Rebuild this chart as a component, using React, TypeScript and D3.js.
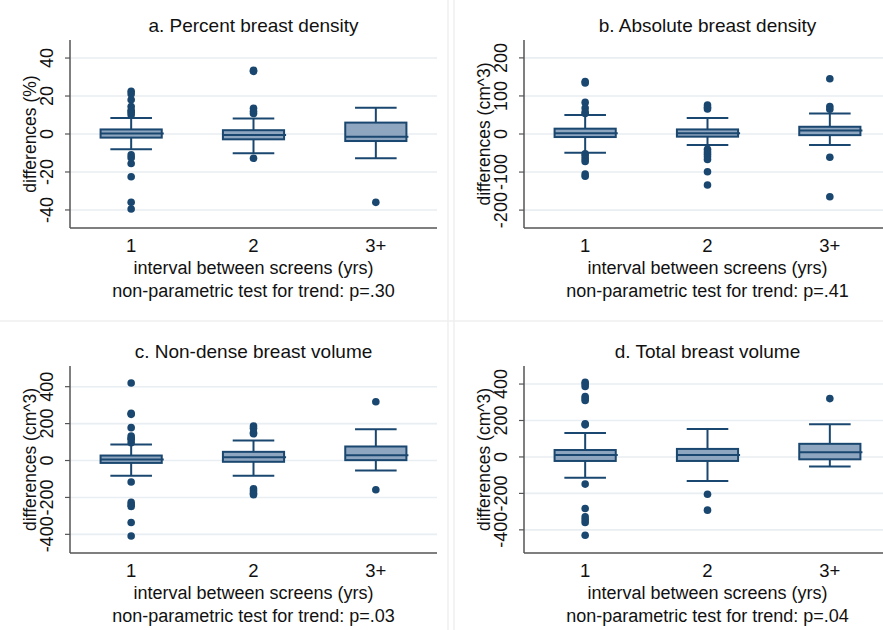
import * as d3 from "d3";

const categories = ["1", "2", "3+"];

const panelTitles = [
  "a. Percent breast density",
  "b. Absolute breast density",
  "c. Non-dense breast volume",
  "d. Total breast volume",
];
const yTitles = ["differences (%)", "differences (cm^3)", "differences (cm^3)", "differences (cm^3)"];
const trendP = [".30", ".41", ".03", ".04"];

const yDomains = [
  [-49.5, 49.5],
  [-247, 247],
  [-501, 512],
  [-527, 499],
];
const yTicks = [
  [-40, -20, 0, 20, 40],
  [-200, -100, 0, 100, 200],
  [-400, -200, 0, 200, 400],
  [-400, -200, 0, 200, 400],
];

// [lower whisker, q1, median, q3, upper whisker] per interval group
const percentStats = [
  [-8, -1.9, 0.2, 2.4, 8.4],
  [-10.2, -2.8, -0.5, 2, 8.2],
  [-12.8, -3.7, -1.4, 6, 13.8],
];
const absoluteStats = [
  [-49, -8, 2, 14, 50],
  [-29, -7, 2, 12, 42],
  [-29, -3, 9, 19, 54],
];
const nonDenseStats = [
  [-82, -13, 5, 27, 87],
  [-82, -7, 18, 47, 109],
  [-54, 2, 29, 76, 169],
];
const totalStats = [
  [-114, -22, 11, 38, 131],
  [-132, -22, 11, 44, 154],
  [-53, -13, 26, 72, 180],
];

const percentOutliers = [
  [22.5, 21, 18, 14.5, 12.5, 11.5, 10.2, -11, -12.5, -15.5, -22.5, -36, -39.5],
  [33.5, 33, 13.5, 12, 10.8, -12.8],
  [-36],
];
const absoluteOutliers = [
  [138, 134, 83, 68, 58, 54, -52, -58, -65, -72, -105, -111],
  [76, 70, 66, -40, -47, -53, -60, -67, -99, -134],
  [145, 72, 65, -61, -165],
];
const nonDenseOutliers = [
  [420, 256, 250, 178, 133, 120, 114, 96, -116, -227, -240, -249, -336, -409],
  [187, 175, 151, 145, -153, -165, -178, -185],
  [318, -158],
];
const totalOutliers = [
  [410, 400, 387, 332, 320, 310, 182, 176, -149, -283, -329, -345, -360, -430],
  [-205, -292],
  [320],
];

const allStats = [percentStats, absoluteStats, nonDenseStats, totalStats];
const allOutliers = [percentOutliers, absoluteOutliers, nonDenseOutliers, totalOutliers];

const navy = "#1a476f";
const boxFill = "#8fa6c0";
const gridColor = "#e8eef1";
const font = "'Liberation Sans', Arial, sans-serif";

const width = 883;
const height = 630;

function Panel({ index, axisX, top, bottom }) {
  const plotW = 367;
  const x = d3.scalePoint().domain(categories).range([axisX, axisX + plotW]).padding(0.5);
  const y = d3.scaleLinear().domain(yDomains[index]).range([bottom, top]);
  const step = x.step();
  const boxW = step * 0.5;
  const capW = step * 0.34;
  const cx = axisX + plotW / 2;

  return (
    <g>
      {yTicks[index].map((t) => (
        <g key={t}>
          <line x1={axisX} x2={axisX + plotW} y1={y(t)} y2={y(t)} stroke={gridColor} strokeWidth={1.6} />
          <line x1={axisX - 5} x2={axisX} y1={y(t)} y2={y(t)} stroke="#555" strokeWidth={1.2} />
          <text
            transform={`translate(${axisX - 17},${y(t)}) rotate(-90)`}
            textAnchor="middle"
            fontSize={18}
            fill="#111"
          >
            {t}
          </text>
        </g>
      ))}

      {categories.map((c, i) => {
        const [lo, q1, med, q3, hi] = allStats[index][i];
        const px = x(c);
        return (
          <g key={c}>
            <line x1={px} x2={px} y1={y(hi)} y2={y(q3)} stroke={navy} strokeWidth={2} />
            <line x1={px} x2={px} y1={y(q1)} y2={y(lo)} stroke={navy} strokeWidth={2} />
            <line x1={px - capW / 2} x2={px + capW / 2} y1={y(hi)} y2={y(hi)} stroke={navy} strokeWidth={2} />
            <line x1={px - capW / 2} x2={px + capW / 2} y1={y(lo)} y2={y(lo)} stroke={navy} strokeWidth={2} />
            <rect
              x={px - boxW / 2}
              y={y(q3)}
              width={boxW}
              height={y(q1) - y(q3)}
              fill={boxFill}
              stroke={navy}
              strokeWidth={2}
            />
            <line x1={px - boxW / 2} x2={px + boxW / 2 + 2} y1={y(med)} y2={y(med)} stroke={navy} strokeWidth={2} />
            {allOutliers[index][i].map((v, k) => (
              <circle key={k} cx={px} cy={y(v)} r={3.8} fill={navy} />
            ))}
            <text x={px} y={bottom + 24} textAnchor="middle" fontSize={18.5} fill="#111">
              {c}
            </text>
          </g>
        );
      })}

      <line x1={axisX} x2={axisX} y1={top} y2={bottom} stroke="#555" strokeWidth={1.5} />
      <line x1={axisX} x2={axisX + plotW} y1={bottom} y2={bottom} stroke="#555" strokeWidth={1.5} />

      <text x={cx} y={top - 8} textAnchor="middle" fontSize={19} fill="#111">
        {panelTitles[index]}
      </text>
      <text
        transform={`translate(${axisX - 34},${(top + bottom) / 2}) rotate(-90)`}
        textAnchor="middle"
        fontSize={17.5}
        fill="#111"
      >
        {yTitles[index]}
      </text>
      <text x={cx} y={bottom + 46} textAnchor="middle" fontSize={18} fill="#111">
        interval between screens (yrs)
      </text>
      <text x={cx} y={bottom + 69} textAnchor="middle" fontSize={18} fill="#111">
        {`non-parametric test for trend: p=${trendP[index]}`}
      </text>
    </g>
  );
}

export default function App() {
  const layout = [
    { axisX: 70, top: 40, bottom: 228 },
    { axisX: 524, top: 40, bottom: 228 },
    { axisX: 70, top: 366, bottom: 553 },
    { axisX: 524, top: 366, bottom: 553 },
  ];
  return (
    <svg
      width={width}
      height={height}
      style={{ position: "absolute", left: 0, top: 0, background: "#fff" }}
      fontFamily={font}
    >
      <rect width={width} height={height} fill="#fff" />
      <line x1={448} x2={448} y1={0} y2={height} stroke="#efefef" strokeWidth={1.5} />
      <line x1={454} x2={454} y1={0} y2={height} stroke="#efefef" strokeWidth={1.5} />
      <line x1={0} x2={width} y1={321} y2={321} stroke="#efefef" strokeWidth={1.5} />
      {layout.map((l, i) => (
        <Panel key={i} index={i} axisX={l.axisX} top={l.top} bottom={l.bottom} />
      ))}
    </svg>
  );
}
